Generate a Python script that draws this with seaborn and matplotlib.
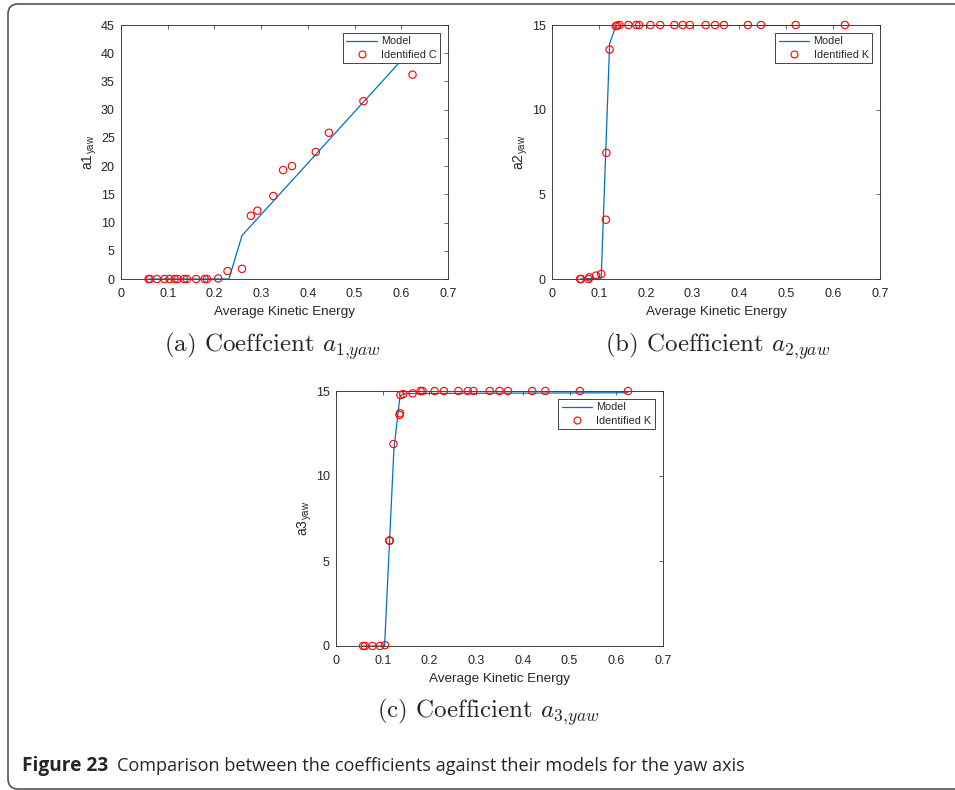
import matplotlib
matplotlib.use("Agg")
import matplotlib.pyplot as plt
import seaborn as sns
import pandas as pd
from matplotlib.patches import FancyBboxPatch
from matplotlib.lines import Line2D

# ---------------- data ----------------
a_x = [0.059, 0.062, 0.077, 0.093, 0.104, 0.115, 0.121, 0.135, 0.141, 0.161, 0.179, 0.184,
       0.208, 0.228, 0.259, 0.278, 0.292, 0.326, 0.347, 0.366, 0.417, 0.445, 0.519, 0.624]
a_y = [0, 0, 0, 0, 0, 0, 0, 0, 0, 0, 0, 0,
       0.1, 1.4, 1.8, 11.2, 12.1, 14.7, 19.3, 20.0, 22.5, 25.9, 31.5, 36.2]
a_model_x = [0.059, 0.231, 0.259, 0.625]
a_model_y = [0, 0, 7.7, 41.0]

b_x = [0.060, 0.062, 0.078, 0.080, 0.094, 0.105, 0.115, 0.116, 0.123, 0.136, 0.139,
       0.144, 0.163, 0.180, 0.186, 0.210, 0.231, 0.261, 0.279, 0.294, 0.328, 0.348,
       0.367, 0.418, 0.446, 0.520, 0.625]
b_y = [0, 0, 0, 0.1, 0.2, 0.3, 3.5, 7.45, 13.55, 14.93, 14.97,
       15, 15, 15, 15, 15, 15, 15, 15, 15, 15, 15,
       15, 15, 15, 15, 15]
b_model_x = [0.060, 0.105, 0.123, 0.137, 0.625]
b_model_y = [0, 0.05, 13.9, 15, 15]

c_x = [0.058, 0.062, 0.078, 0.094, 0.105, 0.114, 0.115, 0.123, 0.136, 0.137, 0.138,
       0.144, 0.164, 0.181, 0.185, 0.211, 0.231, 0.262, 0.282, 0.294, 0.329, 0.350,
       0.368, 0.420, 0.448, 0.522, 0.625]
c_y = [0, 0, 0, 0, 0.05, 6.2, 6.2, 11.88, 13.59, 13.69, 14.76,
       14.82, 14.86, 15, 15, 15, 15, 15, 15, 15, 15, 15,
       15, 15, 15, 15, 15]
c_model_x = [0.058, 0.104, 0.124, 0.137, 0.145, 0.625]
c_model_y = [0, 0, 11.6, 14.7, 14.85, 14.9]

x_ticks = [0, 0.1, 0.2, 0.3, 0.4, 0.5, 0.6, 0.7]
x_ticklabels = ["0", "0.1", "0.2", "0.3", "0.4", "0.5", "0.6", "0.7"]
a_yticks = [0, 5, 10, 15, 20, 25, 30, 35, 40, 45]
bc_yticks = [0, 5, 10, 15]

panels = [
    dict(x=a_x, y=a_y, mx=a_model_x, my=a_model_y, ylim=45, yticks=a_yticks,
         ylabel="$\\mathsf{a1}_{\\mathsf{yaw}}$", leg="Identified C",
         cap="(a) Coeffcient $a_{1{,}yaw}$"),
    dict(x=b_x, y=b_y, mx=b_model_x, my=b_model_y, ylim=15, yticks=bc_yticks,
         ylabel="$\\mathsf{a2}_{\\mathsf{yaw}}$", leg="Identified K",
         cap="(b) Coefficient $a_{2{,}yaw}$"),
    dict(x=c_x, y=c_y, mx=c_model_x, my=c_model_y, ylim=15, yticks=bc_yticks,
         ylabel="$\\mathsf{a3}_{\\mathsf{yaw}}$", leg="Identified K",
         cap="(c) Coefficient $a_{3{,}yaw}$"),
]

# ---------------- style ----------------
sns.set_style("white")
plt.rcParams["font.family"] = ["Liberation Sans", "DejaVu Sans"]
plt.rcParams["mathtext.fontset"] = "custom"
plt.rcParams["mathtext.rm"] = "cmr10"
plt.rcParams["mathtext.it"] = "cmmi10"
plt.rcParams["mathtext.bf"] = "cmb10"
plt.rcParams["mathtext.sf"] = "Liberation Sans"
plt.rcParams["axes.formatter.use_mathtext"] = False

W, H = 955, 790
fig = plt.figure(figsize=(W / 100, H / 100), dpi=100)

# axes rectangles in pixels: left, top, right, bottom
rects = [(121, 25, 448, 279), (552, 25, 880, 279), (336, 391, 663, 646)]
caps_pos = [(272, 346), (718, 346), (488, 712)]

line_color = "#0072BD"
axis_color = "#262626"

for p, (l, t, r, b), (cx, cy) in zip(panels, rects, caps_pos):
    ax = fig.add_axes([l / W, 1 - b / H, (r - l) / W, (b - t) / H])
    dfm = pd.DataFrame({"x": p["mx"], "y": p["my"]})
    dfp = pd.DataFrame({"x": p["x"], "y": p["y"]})
    sns.lineplot(data=dfm, x="x", y="y", ax=ax, color=line_color, lw=0.9,
                 estimator=None, sort=False, clip_on=True)
    sns.scatterplot(data=dfp, x="x", y="y", ax=ax, marker="o", s=28,
                    facecolors="none", edgecolor="#FF0000", linewidth=0.8,
                    clip_on=False, zorder=3)
    ax.set_xlim(0, 0.7)
    ax.set_ylim(0, p["ylim"])
    ax.set_xticks(x_ticks)
    ax.set_xticklabels(x_ticklabels)
    ax.set_yticks(p["yticks"])
    ax.set_yticklabels([str(v) for v in p["yticks"]])
    ax.tick_params(direction="in", length=3, width=0.5, top=True, right=True,
                   labelsize=9, colors=axis_color)
    ax.tick_params(axis="x", pad=6.5)
    ax.tick_params(axis="y", pad=4.5)
    for s in ax.spines.values():
        s.set_visible(True)
        s.set_color(axis_color)
        s.set_linewidth(0.6)
    ax.set_xlabel("Average Kinetic Energy", fontsize=9.7, color=axis_color, labelpad=4)
    ax.set_ylabel(p["ylabel"], fontsize=10, color=axis_color, labelpad=1.5)
    handles = [Line2D([], [], color=line_color, lw=0.9),
               Line2D([], [], ls="none", marker="o", markerfacecolor="none",
                      markeredgecolor="#FF0000", markersize=5, markeredgewidth=0.8)]
    lg = ax.legend(handles, ["Model", p["leg"]], loc="upper right", fontsize=7.8,
                   frameon=True, fancybox=False, framealpha=1, edgecolor=axis_color,
                   handlelength=2.8, labelspacing=0.3, borderaxespad=0.7,
                   borderpad=0.35, handletextpad=0.4)
    lg.get_frame().set_linewidth(0.6)
    lg.set_zorder(5)
    fig.text(cx / W, 1 - cy / H, p["cap"], ha="center", va="center",
             fontsize=18, family="cmr10")

# caption
t1 = fig.text(22 / W, 1 - 766 / H, "Figure 23", fontsize=13.8, fontweight="bold",
              family="Open Sans", va="center", ha="left")
fig.canvas.draw()
bb = t1.get_window_extent()
fig.text((bb.x1 + 9) / W, 1 - 766 / H,
         "Comparison between the coefficients against their models for the yaw axis",
         fontsize=13.1, family="Open Sans", va="center", ha="left")

# border
border = FancyBboxPatch((8 / 100, 1 / 100), 960 / 100, 785 / 100,
                        boxstyle="round,pad=0,rounding_size=0.1",
                        transform=fig.dpi_scale_trans, fill=False,
                        edgecolor="#555555", lw=1.2)
fig.add_artist(border)

fig.savefig("out.png", dpi=100)
